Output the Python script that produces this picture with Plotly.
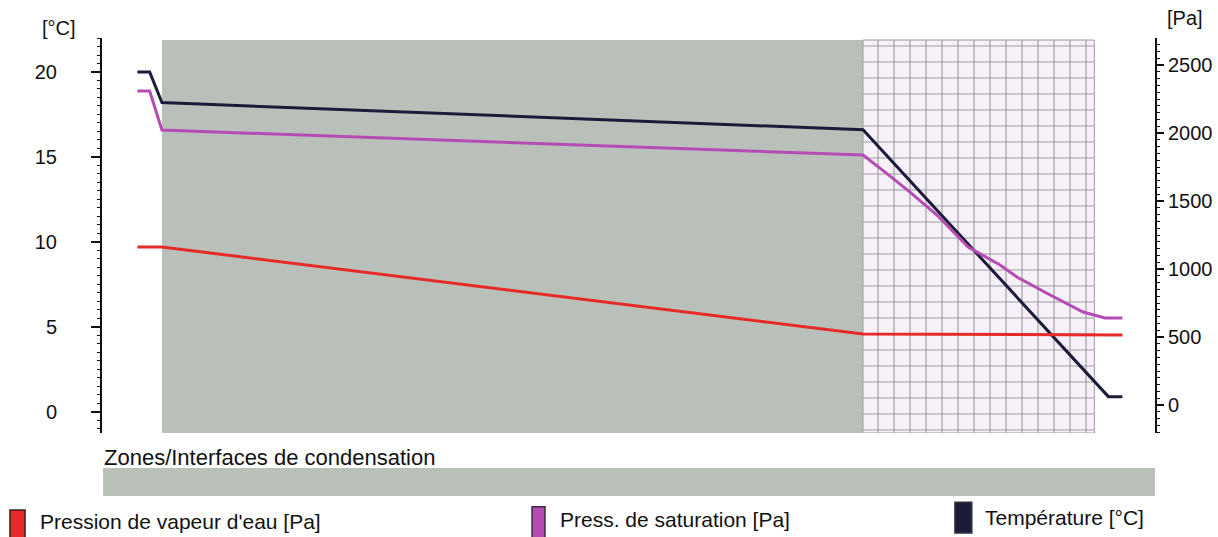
import plotly.graph_objects as go

# ---- data (x = position through the wall, mm) ----
temp_x = [-7, -3.5, 0, 200, 270, 274]
temp_c = [20.0, 20.0, 18.2, 16.6, 0.9, 0.9]

psat_x = [-7, -3.5, 0, 200, 206.3, 213.4, 221.1, 230, 239.1, 243.9, 253.4, 262.8, 269, 274]
psat_pa = [2309, 2309, 2022, 1838, 1713, 1566, 1397, 1162, 1029, 941, 809, 684, 640, 640]

pv_x = [-7, 0, 200, 274]
pv_pa = [1162, 1162, 522, 515]

# layers: (start, end) in mm
layer_mass = (0, 200)
layer_insul = (200, 266)

X_RANGE = [-17.1, 283.3]
Y1_RANGE = [-1.24, 22.0]
Y2_RANGE = [-206, 2699]
LAYER_TOP = 21.88

FONT = "Liberation Sans"
C_RED = "#e62a28"
C_MAG = "#b44cb4"
C_NAVY = "#1c1c3a"

fig = go.Figure()

# insulation layer with grid hatch
fig.add_trace(go.Scatter(
    x=[layer_insul[0], layer_insul[1], layer_insul[1], layer_insul[0], layer_insul[0]],
    y=[Y1_RANGE[0], Y1_RANGE[0], LAYER_TOP, LAYER_TOP, Y1_RANGE[0]],
    mode="lines", fill="toself", fillcolor="#f8f0f8",
    fillpattern=dict(shape="+", size=16, solidity=0.14, fgcolor="#9c9ca2", bgcolor="#f8f0f8", fillmode="replace"),
    line=dict(color="#9c9ca2", width=1),
    hoverinfo="skip", showlegend=False, yaxis="y"))

fig.add_trace(go.Scatter(x=pv_x, y=pv_pa, mode="lines", name="Pression de vapeur d'eau [Pa]",
                         line=dict(color=C_RED, width=3), yaxis="y2", showlegend=False))
fig.add_trace(go.Scatter(x=psat_x, y=psat_pa, mode="lines", name="Press. de saturation [Pa]",
                         line=dict(color=C_MAG, width=3), yaxis="y2", showlegend=False))
fig.add_trace(go.Scatter(x=temp_x, y=temp_c, mode="lines", name="Température [°C]",
                         line=dict(color=C_NAVY, width=3), yaxis="y", showlegend=False))

shapes = [
    dict(type="rect", xref="x", yref="y", x0=layer_mass[0], x1=layer_mass[1],
         y0=Y1_RANGE[0], y1=LAYER_TOP, fillcolor="#b9c0ba", line=dict(width=0), layer="below"),
    # condensation zone bar
    dict(type="rect", xref="paper", yref="paper", x0=0.001, x1=1.0, y0=-0.1595, y1=-0.0886,
         fillcolor="#b9c1b9", line=dict(width=0)),
    # legend swatches
    dict(type="rect", xref="paper", yref="paper", x0=-0.0874, x1=-0.0731, y0=-0.275, y1=-0.195,
         fillcolor=C_RED, line=dict(color="#3a2020", width=1.5)),
    dict(type="rect", xref="paper", yref="paper", x0=0.4084, x1=0.4207, y0=-0.275, y1=-0.187,
         fillcolor=C_MAG, line=dict(color="#3a2a3a", width=1.5)),
    dict(type="rect", xref="paper", yref="paper", x0=0.810, x1=0.826, y0=-0.253, y1=-0.175,
         fillcolor=C_NAVY, line=dict(color="#303040", width=1.5)),
]

ann_font = dict(family=FONT, size=21, color="#111111")
annotations = [
    dict(text="[°C]", x=-0.0589, y=1.025, xref="paper", yref="paper", xanchor="left", yanchor="middle",
         showarrow=False, font=dict(family=FONT, size=20, color="#111111")),
    dict(text="[Pa]", x=1.0095, y=1.051, xref="paper", yref="paper", xanchor="left", yanchor="middle",
         showarrow=False, font=dict(family=FONT, size=20, color="#111111")),
    dict(text="Zones/Interfaces de condensation", x=0.0, y=-0.063, xref="paper", yref="paper",
         xanchor="left", yanchor="middle", showarrow=False, font=dict(family=FONT, size=22, color="#111111")),
    dict(text="Pression de vapeur d'eau [Pa]", x=-0.0608, y=-0.225, xref="paper", yref="paper",
         xanchor="left", yanchor="middle", showarrow=False, font=ann_font),
    dict(text="Press. de saturation [Pa]", x=0.433, y=-0.220, xref="paper", yref="paper",
         xanchor="left", yanchor="middle", showarrow=False, font=ann_font),
    dict(text="Température [°C]", x=0.8367, y=-0.215, xref="paper", yref="paper",
         xanchor="left", yanchor="middle", showarrow=False, font=ann_font),
]

fig.update_layout(
    width=1218, height=537,
    margin=dict(l=102, r=63, t=38, b=104, autoexpand=False),
    paper_bgcolor="white", plot_bgcolor="white",
    showlegend=False,
    shapes=shapes, annotations=annotations,
    xaxis=dict(range=X_RANGE, visible=False, showgrid=False, zeroline=False, fixedrange=True,
               automargin=False),
    yaxis=dict(range=Y1_RANGE, tickvals=[0, 5, 10, 15, 20], showgrid=False, zeroline=False,
               automargin=False,
               showline=True, linecolor="#111111", linewidth=2,
               ticks="outside", ticklen=9, tickwidth=1.5, tickcolor="#111111",
               ticklabelstandoff=30,
               minor=dict(dtick=0.5, ticks="outside", ticklen=3, tickcolor="#111111", tickwidth=1),
               tickfont=dict(family=FONT, size=20, color="#111111")),
    yaxis2=dict(range=Y2_RANGE, overlaying="y", side="right", anchor="x",
                automargin=False,
                tickvals=[0, 500, 1000, 1500, 2000, 2500], showgrid=False, zeroline=False,
                showline=True, linecolor="#111111", linewidth=2,
                ticks="outside", ticklen=7, tickwidth=1.5, tickcolor="#111111",
                minor=dict(dtick=50, ticks="outside", ticklen=3, tickcolor="#111111", tickwidth=1),
                tickfont=dict(family=FONT, size=20, color="#111111")),
)

# remove the default page margin so the 1218x537 figure fills the window exactly
fig.write_html("out.html",
               config={"displayModeBar": False},
               post_script="document.body.style.margin='0';document.body.style.overflow='hidden';")
